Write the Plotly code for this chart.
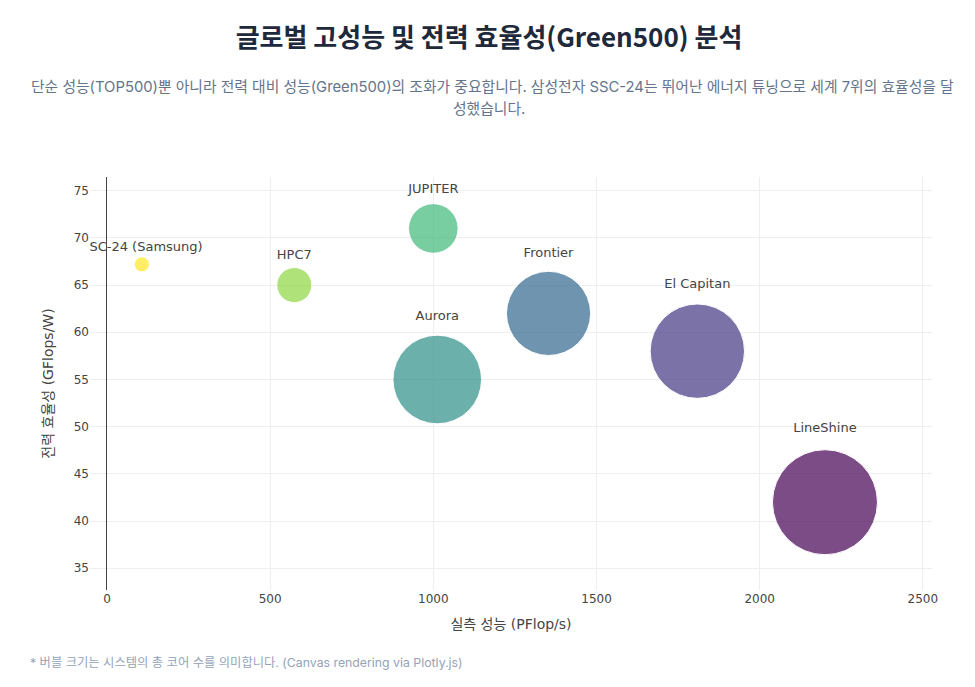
import plotly.graph_objects as go

# ---- data ----
systems = ["SSC-24 (Samsung)", "HPC7", "JUPITER", "Aurora", "Frontier", "El Capitan", "LineShine"]
rmax_pflops = [107, 574, 1000, 1012, 1353, 1809, 2200]
efficiency_gflops_w = [67.2, 65.0, 71.0, 55.0, 62.0, 58.0, 42.0]
total_cores_millions = [0.27, 1.45, 2.9, 9.26, 8.35, 10.5, 13.0]
colors = ["#fde725", "#90d743", "#3fb87a", "#2f8f8a", "#31688e", "#443983", "#440154"]

title_text = "글로벌 고성능 및 전력 효율성(Green500) 분석"
subtitle_line1 = ("단순 성능(TOP500)뿐 아니라 전력 대비 성능(Green500)의 조화가 중요합니다. "
                  "삼성전자 SSC-24는 뛰어난 에너지 튜닝으로 세계 7위의 효율성을 달")
subtitle_line2 = "성했습니다."
footer_text = "* 버블 크기는 시스템의 총 코어 수를 의미합니다. (Canvas rendering via Plotly.js)"
x_title = "실측 성능 (PFlop/s)"
y_title = "전력 효율성 (GFlops/W)"

# page has an 8px body margin; figure sized to fit the 975x687 window
W, H = 959, 671
ML, MR, MT, MB = 82, 35, 169, 89
plot_w = W - ML - MR
plot_h = H - MT - MB


def px_x(fx):
    return (fx - ML) / plot_w


def px_y(fy):
    return (H - MB - fy) / plot_h


max_px = 105
sizeref = 2.0 * max(total_cores_millions) / (max_px ** 2)

CHART_FONT = "DejaVu Sans, Verdana, sans-serif"
KR_FONT = "DejaVu Sans, Noto Sans CJK KR, sans-serif"
UI_FONT = "Inter, Noto Sans CJK KR, sans-serif"

fig = go.Figure()
fig.add_trace(go.Scatter(
    x=rmax_pflops,
    y=efficiency_gflops_w,
    mode="markers+text",
    text=systems,
    textposition="top center",
    textfont=dict(family=CHART_FONT, size=13, color="#444444"),
    marker=dict(
        size=total_cores_millions,
        sizemode="area",
        sizeref=sizeref,
        color=colors,
        opacity=0.7,
        line=dict(width=1, color="white"),
    ),
    hovertemplate="%{text}<br>%{x} PFlop/s<br>%{y} GFlops/W<extra></extra>",
    showlegend=False,
))

fig.update_layout(
    width=W, height=H,
    margin=dict(l=ML, r=MR, t=MT, b=MB, autoexpand=False),
    paper_bgcolor="white",
    plot_bgcolor="white",
    font=dict(family=CHART_FONT, size=12, color="#444444"),
    title=dict(
        text="<b>" + title_text + "</b>",
        x=(481) / W, xanchor="center", xref="container",
        y=1 - 30 / H, yanchor="middle", yref="container",
        font=dict(family="Noto Sans CJK KR, sans-serif", size=26, color="#1e293b"),
    ),
    xaxis=dict(
        range=[-52, 2528],
        dtick=500,
        showgrid=True, gridcolor="#eeeeee", gridwidth=1,
        zeroline=True, zerolinecolor="#444444", zerolinewidth=1,
        showline=False,
        ticks="",
        tickfont=dict(family=CHART_FONT, size=12, color="#444444"),
        title=dict(text=x_title, font=dict(family=KR_FONT, size=14, color="#444444"), standoff=14),
        automargin=False,
    ),
    yaxis=dict(
        range=[32.7, 76.45],
        dtick=5,
        showgrid=True, gridcolor="#eeeeee", gridwidth=1,
        zeroline=False,
        showline=False,
        ticks="",
        tickfont=dict(family=CHART_FONT, size=12, color="#444444"),
        title=dict(text=y_title, font=dict(family=KR_FONT, size=14, color="#444444"), standoff=16),
        automargin=False,
    ),
    annotations=[
        dict(
            text=subtitle_line1,
            xref="paper", yref="paper",
            x=px_x(484), xanchor="center",
            y=px_y(79), yanchor="middle",
            showarrow=False, align="center",
            font=dict(family=UI_FONT, size=14.8, color="#64748b"),
        ),
        dict(
            text=subtitle_line2,
            xref="paper", yref="paper",
            x=px_x(481), xanchor="center",
            y=px_y(101), yanchor="middle",
            showarrow=False, align="center",
            font=dict(family=UI_FONT, size=14.8, color="#64748b"),
        ),
        dict(
            text=footer_text,
            xref="paper", yref="paper",
            x=px_x(20), xanchor="left",
            y=px_y(654), yanchor="middle",
            showarrow=False, align="left",
            font=dict(family=UI_FONT, size=12.3, color="#94a3b8"),
        ),
    ],
)

fig.write_html("out.html")
